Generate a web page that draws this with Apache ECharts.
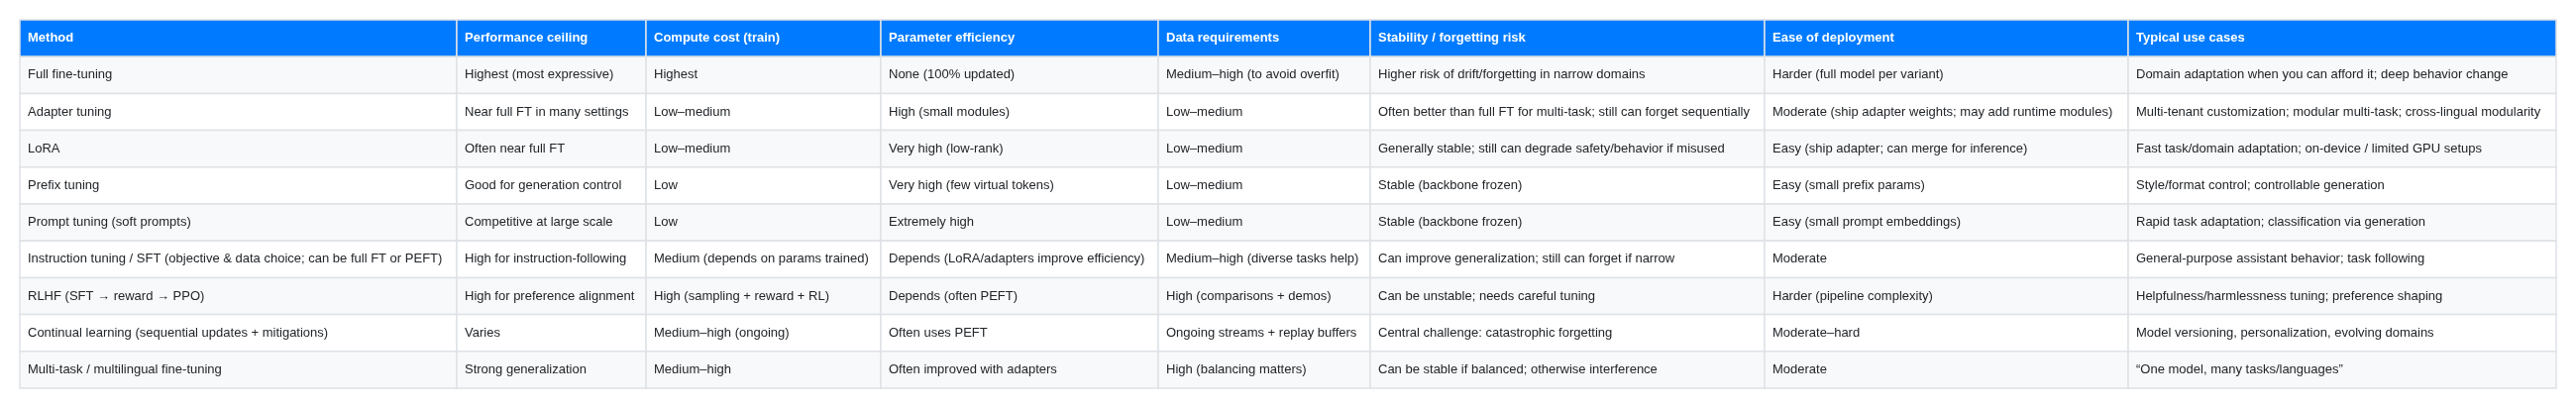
<!DOCTYPE html>
<html><head><meta charset="utf-8">
<script src="https://cdn.jsdelivr.net/npm/echarts@6/dist/echarts.min.js"></script>
<style>html,body{margin:0;padding:0;background:#fff}#c{width:2600px;height:412px}</style>
</head><body><div id="c"></div>
<script>
const headers = ["Method","Performance ceiling","Compute cost (train)","Parameter efficiency","Data requirements","Stability / forgetting risk","Ease of deployment","Typical use cases"];
const method = ["Full fine-tuning","Adapter tuning","LoRA","Prefix tuning","Prompt tuning (soft prompts)","Instruction tuning / SFT (objective & data choice; can be full FT or PEFT)","RLHF (SFT \u2192 reward \u2192 PPO)","Continual learning (sequential updates + mitigations)","Multi-task / multilingual fine-tuning"];
const performance = ["Highest (most expressive)","Near full FT in many settings","Often near full FT","Good for generation control","Competitive at large scale","High for instruction-following","High for preference alignment","Varies","Strong generalization"];
const compute = ["Highest","Low\u2013medium","Low\u2013medium","Low","Low","Medium (depends on params trained)","High (sampling + reward + RL)","Medium\u2013high (ongoing)","Medium\u2013high"];
const paramEff = ["None (100% updated)","High (small modules)","Very high (low-rank)","Very high (few virtual tokens)","Extremely high","Depends (LoRA/adapters improve efficiency)","Depends (often PEFT)","Often uses PEFT","Often improved with adapters"];
const dataReq = ["Medium\u2013high (to avoid overfit)","Low\u2013medium","Low\u2013medium","Low\u2013medium","Low\u2013medium","Medium\u2013high (diverse tasks help)","High (comparisons + demos)","Ongoing streams + replay buffers","High (balancing matters)"];
const stability = ["Higher risk of drift/forgetting in narrow domains","Often better than full FT for multi-task; still can forget sequentially","Generally stable; still can degrade safety/behavior if misused","Stable (backbone frozen)","Stable (backbone frozen)","Can improve generalization; still can forget if narrow","Can be unstable; needs careful tuning","Central challenge: catastrophic forgetting","Can be stable if balanced; otherwise interference"];
const ease = ["Harder (full model per variant)","Moderate (ship adapter weights; may add runtime modules)","Easy (ship adapter; can merge for inference)","Easy (small prefix params)","Easy (small prompt embeddings)","Moderate","Harder (pipeline complexity)","Moderate\u2013hard","Moderate"];
const useCases = ["Domain adaptation when you can afford it; deep behavior change","Multi-tenant customization; modular multi-task; cross-lingual modularity","Fast task/domain adaptation; on-device / limited GPU setups","Style/format control; controllable generation","Rapid task adaptation; classification via generation","General-purpose assistant behavior; task following","Helpfulness/harmlessness tuning; preference shaping","Model versioning, personalization, evolving domains","\u201cOne model, many tasks/languages\u201d"];

const columns = [method, performance, compute, paramEff, dataReq, stability, ease, useCases];
// layout
const colX = [20,461,652,889,1169,1383,1781,2148,2580];
const tableTop = 20, rowH = 37.2;
const FONT = '"Liberation Sans", Arial, Helvetica, sans-serif';

const els = [];
const nRows = method.length + 1;
for (let r = 0; r < nRows; r++) {
  const y = tableTop + r * rowH;
  const isHead = r === 0;
  const fill = isHead ? '#007bff' : (r % 2 === 1 ? '#f8f9fa' : '#ffffff');
  for (let c = 0; c < headers.length; c++) {
    const x = colX[c], w = colX[c+1] - colX[c];
    els.push({type:'rect', shape:{x:x, y:y, width:w, height:rowH},
      style:{fill:fill, stroke:'#dee2e6', lineWidth:1.5}});
    const txt = isHead ? headers[c] : columns[c][r-1];
    els.push({type:'text', x:x+8, y:y+rowH/2,
      style:{text:txt, fill:isHead?'#ffffff':'#212529', font:(isHead?'bold ':'')+'13px '+FONT,
        verticalAlign:'middle', align:'left'}});
  }
}
const chart = echarts.init(document.getElementById('c'), null, {renderer:'canvas'});
chart.setOption({animation:false, graphic:{elements:els}});
</script></body></html>
